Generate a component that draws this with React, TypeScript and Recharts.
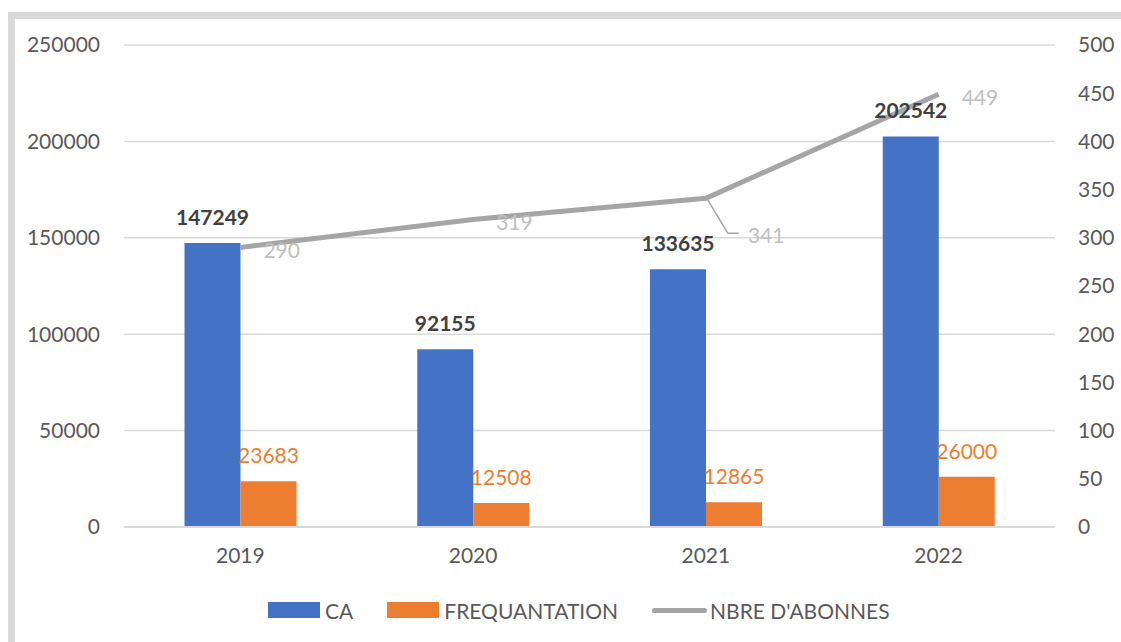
import { ComposedChart, Bar, Line, XAxis, YAxis, CartesianGrid, LabelList } from "recharts"

const years = ["2019", "2020", "2021", "2022"]
const caValues = [147249, 92155, 133635, 202542]
const frequentationValues = [23683, 12508, 12865, 26000]
const abonnesValues = [290, 319, 341, 449]
const leftTicks = [0, 50000, 100000, 150000, 200000, 250000]
const rightTicks = [0, 50, 100, 150, 200, 250, 300, 350, 400, 450, 500]

const data = years.map((year, i) => ({
  year,
  ca: caValues[i],
  frequentation: frequentationValues[i],
  abonnes: abonnesValues[i],
}))

const FONT = "Lato, 'Open Sans', sans-serif"
const BLUE = "#4472C4"
const ORANGE = "#ED7D31"
const GREY = "#A5A5A5"

const AbonnesLabel = (props: any) => {
  const { x, y, value, index } = props
  if (index === 2) {
    return (
      <g>
        <polyline
          points={`${x + 1},${y} ${x + 22},${y + 35} ${x + 33},${y + 35}`}
          fill="none"
          stroke={GREY}
          strokeWidth={1.5}
        />
        <text x={x + 42} y={y + 36} dominantBaseline="central" fill="#BFBFBF" fontSize={21} fontFamily={FONT}>
          {value}
        </text>
      </g>
    )
  }
  return (
    <text x={x + 23} y={y + 2} dominantBaseline="central" fill="#BFBFBF" fontSize={21} fontFamily={FONT}>
      {value}
    </text>
  )
}

const legendItems = [
  { label: "CA", color: BLUE, type: "rect" },
  { label: "FREQUANTATION", color: ORANGE, type: "rect" },
  { label: "NBRE D'ABONNES", color: GREY, type: "line" },
]

export default function App() {
  return (
    <div
      style={{
        position: "fixed",
        left: 0,
        top: 0,
        width: 1121,
        height: 642,
        background: "#fff",
        overflow: "hidden",
        fontFamily: FONT,
      }}
    >
      <div
        style={{
          position: "absolute",
          left: 8,
          top: 12,
          width: 1200,
          height: 700,
          borderLeft: "7px solid #D9D9D9",
          borderTop: "7px solid #D9D9D9",
        }}
      />
      <div style={{ position: "absolute", left: 0, top: 0 }}>
        <ComposedChart
          width={1121}
          height={642}
          data={data}
          margin={{ top: 45, right: 0, left: 0, bottom: 75 }}
          barCategoryGap="26%"
          barGap={0}
        >
          <CartesianGrid yAxisId="left" vertical={false} stroke="#D9D9D9" strokeWidth={1.5} />
          <XAxis
            dataKey="year"
            height={40}
            axisLine={{ stroke: "#D9D9D9", strokeWidth: 2 }}
            tickLine={false}
            tickMargin={15}
            tick={{ fill: "#595959", fontSize: 21, fontFamily: FONT }}
          />
          <YAxis
            yAxisId="left"
            width={124}
            domain={[0, 250000]}
            ticks={leftTicks}
            axisLine={false}
            tickLine={false}
            tickMargin={18}
            tick={{ fill: "#595959", fontSize: 21, fontFamily: FONT }}
          />
          <YAxis
            yAxisId="right"
            orientation="right"
            width={66}
            domain={[0, 500]}
            ticks={rightTicks}
            axisLine={false}
            tickLine={false}
            tickMargin={17}
            tick={{ fill: "#595959", fontSize: 21, fontFamily: FONT, textAnchor: "start" }}
          />
          <Bar yAxisId="left" dataKey="ca" fill={BLUE} isAnimationActive={false}>
            <LabelList
              dataKey="ca"
              position="top"
              offset={18}
              fill="#404040"
              fontSize={21}
              fontWeight={700}
              fontFamily={FONT}
            />
          </Bar>
          <Bar yAxisId="left" dataKey="frequentation" fill={ORANGE} isAnimationActive={false}>
            <LabelList
              dataKey="frequentation"
              position="top"
              offset={18}
              fill={ORANGE}
              fontSize={21}
              fontFamily={FONT}
            />
          </Bar>
          <Line
            yAxisId="right"
            dataKey="abonnes"
            stroke={GREY}
            strokeWidth={5}
            dot={false}
            type="linear"
            isAnimationActive={false}
          >
            <LabelList dataKey="abonnes" content={AbonnesLabel} />
          </Line>
        </ComposedChart>
      </div>
      <div
        style={{
          position: "absolute",
          left: 268,
          top: 598,
          height: 24,
          display: "flex",
          alignItems: "center",
          fontSize: 21,
          color: "#595959",
        }}
      >
        {legendItems.map((item) => (
          <div key={item.label} style={{ display: "flex", alignItems: "center", marginRight: 34 }}>
            {item.type === "rect" ? (
              <div style={{ width: 52, height: 16, background: item.color, marginRight: 5 }} />
            ) : (
              <div style={{ width: 55, height: 5, borderRadius: 3, background: item.color, marginRight: 3 }} />
            )}
            <span>{item.label}</span>
          </div>
        ))}
      </div>
    </div>
  )
}
